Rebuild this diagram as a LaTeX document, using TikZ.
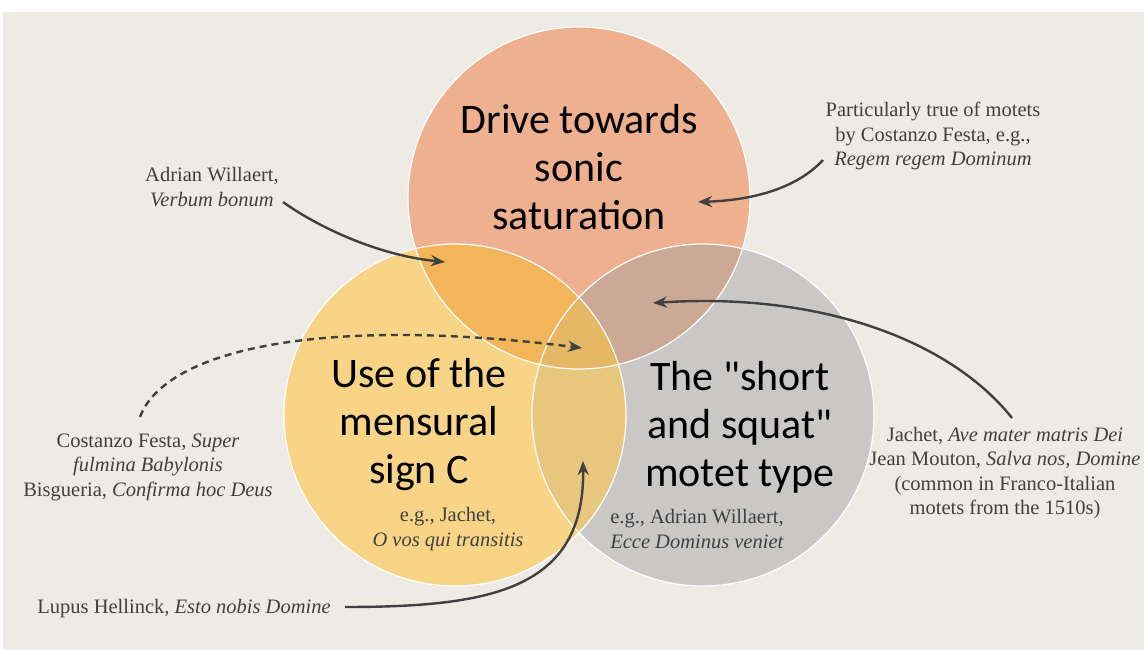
\documentclass[tikz,border=0pt]{standalone}
\usepackage{fontspec}
\setmainfont{Liberation Serif}
\newfontfamily\bigfont{Carlito}
\usetikzlibrary{arrows.meta}

\definecolor{pagebg}{HTML}{EEEBE5}
\definecolor{drivefill}{HTML}{EEB08F}
\definecolor{signfill}{HTML}{F8D486}
\definecolor{squatfill}{HTML}{C9C8C6}
\definecolor{drivesign}{HTML}{F2B55A}
\definecolor{drivesquat}{HTML}{CCA896}
\definecolor{signsquat}{HTML}{E6C77D}
\definecolor{allthree}{HTML}{E6B866}
\definecolor{pointer}{HTML}{404040}

\tikzset{
  bigtext/.style={font=\bigfont\fontsize{42}{48}\selectfont, align=center, text=black},
  smalltext/.style={font=\fontsize{20.5}{24.5}\selectfont, align=center, text=black!75},
  pointarrow/.style={draw=pointer, line width=2.4pt, -{Stealth[length=14pt,width=11pt]}},
}

\begin{document}
\begin{tikzpicture}[x=1pt,y=-1pt]
    \useasboundingbox (0,0) rectangle (1144,650);
    \fill[white] (0,0) rectangle (1144,650);
    \fill[pagebg] (3,12) rectangle (1144,650);

    % the three circles
    \fill[drivefill] (579,198) circle (171);
    \fill[signfill] (455,415) circle (171);
    \fill[squatfill] (703,415) circle (171);

    \begin{scope}
        \clip (579,198) circle (171);
        \fill[drivesign] (455,415) circle (171);
        \fill[drivesquat] (703,415) circle (171);
    \end{scope}
    \begin{scope}
        \clip (455,415) circle (171);
        \fill[signsquat] (703,415) circle (171);
        \clip (703,415) circle (171);
        \fill[allthree] (579,198) circle (171);
    \end{scope}

    \draw[white, line width=1.2pt] (579,198) circle (171);
    \draw[white, line width=1.2pt] (455,415) circle (171);
    \draw[white, line width=1.2pt] (703,415) circle (171);

    % circle titles
    \node[bigtext] (drive) at (579,167) {Drive towards\\sonic\\saturation};
    \node[bigtext] (mensural) at (419,425) {Use of the\\mensural\\sign C};
    \node[bigtext] (squat) at (740,427) {The "short\\and squat"\\motet type};

    \node[smalltext] (jachetex) at (448,529) {e.g., Jachet,\\\textit{O vos qui transitis}};
    \node[smalltext] (willaertex) at (697,529) {e.g., Adrian Willaert,\\\textit{Ecce Dominus veniet}};

    % notes outside
    \node[smalltext] (willaert) at (212,187) {Adrian Willaert,\\\textit{Verbum bonum}};
    \node[smalltext] (festa) at (933,136) {Particularly true of motets\\by Costanzo Festa, e.g.,\\\textit{Regem regem Dominum}};
    \node[smalltext] (bisgueria) at (148,467) {Costanzo Festa, \textit{Super}\\\textit{fulmina Babylonis}\\Bisgueria, \textit{Confirma hoc Deus}};
    \node[smalltext] (mouton) at (1005,473) {Jachet, \textit{Ave mater matris Dei}\\Jean Mouton, \textit{Salva nos, Domine}\\(common in Franco-Italian\\motets from the 1510s)};
    \node[smalltext, anchor=base] (hellinck) at (184,613) {Lupus Hellinck, \textit{Esto nobis Domine}};

    \coordinate (willaertstart) at (283,202);
    \coordinate (willaerttip) at (445,262);
    \coordinate (festastart) at (823,160);
    \coordinate (festatip) at (698,202);
    \coordinate (bisgueriastart) at (140,417);
    \coordinate (bisgueriatip) at (582,348);
    \coordinate (moutonstart) at (1012,418);
    \coordinate (moutontip) at (653,303);
    \coordinate (hellinckstart) at (345,607);
    \coordinate (hellincktip) at (583,461);

    \draw[pointarrow] (willaertstart) .. controls (315,225) and (375,255) .. (willaerttip);
    \draw[pointarrow] (festastart) .. controls (800,185) and (760,200) .. (festatip);
    \draw[pointarrow, dash pattern=on 7pt off 5pt] (bisgueriastart) .. controls (165,350) and (320,315) .. (bisgueriatip);
    \draw[pointarrow] (moutonstart) .. controls (950,340) and (820,292) .. (moutontip);
    \draw[pointarrow] (hellinckstart) .. controls (490,607) and (585,590) .. (hellincktip);
\end{tikzpicture}
\end{document}
